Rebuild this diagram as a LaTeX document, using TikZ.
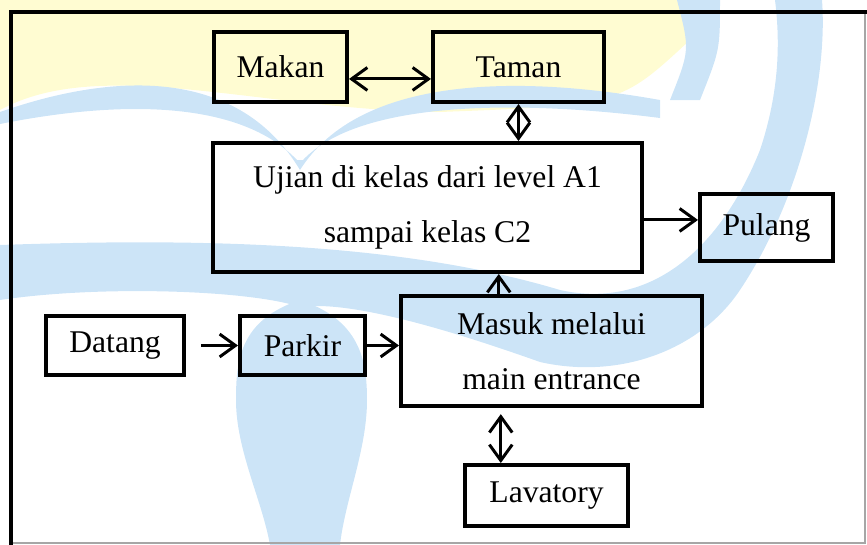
\documentclass[tikz,border=0pt]{standalone}
\usepackage{fontspec}
\setmainfont{Liberation Serif}
\usepackage{tikz}
\usetikzlibrary{positioning}
\usetikzlibrary{arrows.meta}

\definecolor{wmblue}{HTML}{CCE4F7}
\definecolor{wmyellow}{HTML}{FFFCD2}

\begin{document}
\begin{tikzpicture}[x=0.02cm, y=-0.02cm,
	box/.style = {draw, line width=2.3pt, inner sep=2pt, align=center,
		font=\fontsize{18}{31}\selectfont}]
	\useasboundingbox (0,0) rectangle (867,545);

	% 背景的淡色标志
	\fill[wmyellow] (0,0) -- (690,0) -- (690,40) .. controls (620,105) .. (440,112)
		.. controls (260,110) and (100,55) .. (0,110) -- cycle;
	\fill[wmblue] (0,112) .. controls (120,70) and (240,70) .. (300,170)
		.. controls (360,75) and (520,75) .. (660,100) -- (660,118)
		.. controls (520,100) and (360,100) .. (303,160) -- (297,160)
		.. controls (240,100) and (120,100) .. (0,124) -- cycle;
	\fill[wmblue] (677,0) -- (720,0) .. controls (720,50) .. (700,100) -- (670,100)
		.. controls (690,50) .. (677,0);
	\fill[wmblue] (0,245) .. controls (200,238) and (400,242) .. (560,290)
		.. controls (650,310) and (720,250) .. (760,150)
		.. controls (780,90) and (780,40) .. (775,0) -- (822,0)
		.. controls (828,80) and (800,200) .. (740,290)
		.. controls (700,350) and (620,380) .. (540,362)
		.. controls (450,330) and (350,300) .. (300,307)
		.. controls (250,290) and (100,285) .. (0,300) -- cycle;
	\fill[wmblue] (300,300) .. controls (240,320) and (236,360) .. (236,400)
		.. controls (236,450) and (262,500) .. (270,545) -- (340,545)
		.. controls (345,500) and (367,450) .. (367,400)
		.. controls (367,360) and (360,320) .. (300,300);

	% 外框
	\draw[gray!70, line width=0.6pt] (12,12) rectangle (865,543);
	\draw[line width=2.3pt] (11,545) -- (11,12) -- (867,12);

	% 方框
	\node[box, minimum width=2.66cm, minimum height=1.40cm] (makan) at (280.5,67) {Makan};
	\node[box, minimum width=3.42cm, minimum height=1.40cm] (taman) at (518.5,67) {Taman};
	\node[box, minimum width=8.58cm, minimum height=2.58cm] (ujian) at (427.5,207.5)
		{Ujian di kelas dari level A1\\sampai kelas C2};
	\node[box, minimum width=2.66cm, minimum height=1.34cm] (pulang) at (766.5,227.5) {Pulang};
	\node[box, minimum width=2.76cm, minimum height=1.18cm] (datang) at (115,345.5) {Datang};
	\node[box, minimum width=2.50cm, minimum height=1.18cm] (parkir) at (302.5,345.5) {Parkir};
	\node[box, minimum width=6.02cm, minimum height=2.20cm] (masuk) at (551.5,351)
		{Masuk melalui\\main entrance};
	\node[box, minimum width=3.26cm, minimum height=1.22cm] (lavatory) at (546.5,495.5) {Lavatory};

	% 箭头
	\tikzset{
	arrow/.style = {arrows = {-Straight Barb[length=9pt, width=13pt]}, line width=1.7pt},
	twoway/.style = {arrows = {Straight Barb[length=9pt, width=13pt]-Straight Barb[length=9pt, width=13pt]}, line width=1.7pt}
	}

	\draw ([yshift=-6.8pt]makan.east) edge [twoway] ([yshift=-6.8pt]taman.west);
	\draw (taman.south) edge [twoway] (taman.south |- ujian.north);
	\draw ([yshift=4.3pt]pulang.west -| ujian.east) edge [arrow] ([yshift=4.3pt]pulang.west);
	\draw ([xshift=-30pt]masuk.north) edge [arrow] ([xshift=-30pt]masuk.north |- ujian.south);
	\draw (datang.east) edge [arrow, shorten <=8.5pt] (parkir.west);
	\draw (parkir.east) edge [arrow] (parkir.east -| masuk.west);
	\draw ([xshift=-26pt]lavatory.north) edge [twoway, shorten >=3.5pt] ([xshift=-26pt]lavatory.north |- masuk.south);

\end{tikzpicture}
\end{document}
